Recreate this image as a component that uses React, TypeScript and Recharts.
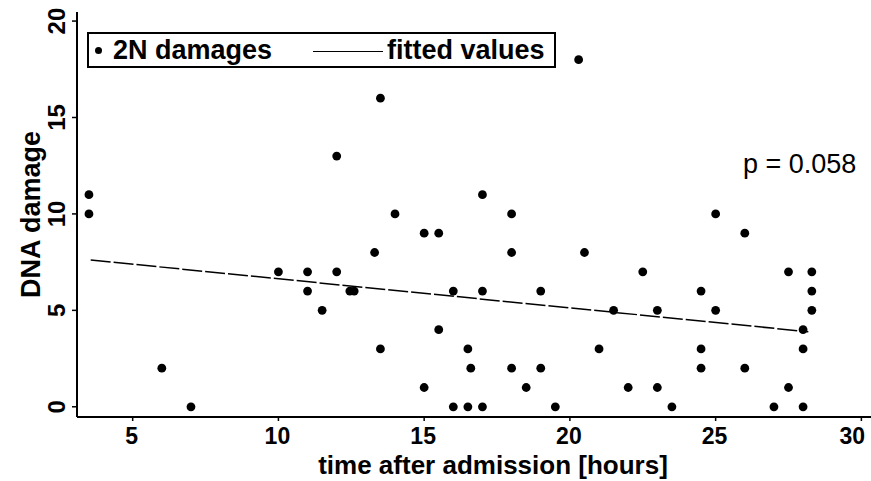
import React from 'react'
import {
  ScatterChart,
  Scatter,
  XAxis,
  YAxis,
  Legend,
  ReferenceDot,
} from 'recharts'

// hours after admission / DNA damage for each 2N observation
const hours = [
  3.5, 3.5, 6, 7, 10, 11, 11, 11.5, 12, 12, 12.45, 12.6, 13.3, 13.5, 13.5, 14,
  15, 15, 15.5, 15.5, 16, 16, 16.5, 16.5, 16.6, 17, 17, 17, 18, 18, 18, 18.5,
  19, 19, 19.5, 20.3, 20.5, 21, 21.5, 22, 22.5, 23, 23, 23.5, 24.5, 24.5, 24.5,
  25, 25, 26, 26, 27, 27.5, 27.5, 28, 28, 28, 28.3, 28.3, 28.3,
]
const damage = [
  11, 10, 2, 0, 7, 7, 6, 5, 13, 7, 6, 6, 8, 16, 3, 10,
  9, 1, 9, 4, 6, 0, 3, 0, 2, 11, 6, 0, 10, 8, 2, 1,
  6, 2, 0, 18, 8, 3, 5, 1, 7, 5, 1, 0, 6, 3, 2,
  10, 5, 9, 2, 0, 7, 1, 4, 3, 0, 7, 6, 5,
]

// fitted regression line, read at its two ends
const fitHours = [3.56, 28.18]
const fitValues = [7.61, 3.89]

const xTicks = [5, 10, 15, 20, 25, 30]
const yTicks = [0, 5, 10, 15, 20]

const pText = 'p = 0.058'
const pAt = { x: 25.94, y: 12.12 }

const points = hours.map((h, i) => ({ x: h, y: damage[i] }))
const fitted = fitHours.map((h, i) => ({ x: h, y: fitValues[i] }))

const FONT = '"Liberation Sans", Arial, sans-serif'
const xDomain = [3.09, 30.33]
const yDomain = [-0.53, 20.47]

const Dot = (props: any) => (
  <circle cx={props.cx} cy={props.cy} r={4.4} fill="#000" />
)

const YTick = ({ y, payload }: any) => (
  <text
    x={65}
    y={y}
    transform={`rotate(-90, 65, ${y})`}
    textAnchor="middle"
    fontFamily={FONT}
    fontWeight="bold"
    fontSize={24}
    fill="#000"
  >
    {payload.value}
  </text>
)

const XTick = ({ x, y, payload }: any) => (
  <text
    // last label is pulled inside the frame, as in the original
    x={payload.value === 30 ? x - 9 : x - 1}
    y={y + 21}
    textAnchor="middle"
    fontFamily={FONT}
    fontWeight="bold"
    fontSize={23}
    fill="#000"
  >
    {payload.value}
  </text>
)

const LegendBox = () => (
  <div
    style={{
      position: 'relative',
      width: 469,
      height: 36,
      boxSizing: 'border-box',
      border: '2px solid #000',
      background: '#fff',
      fontFamily: FONT,
      fontWeight: 'bold',
      fontSize: 27,
      lineHeight: '32px',
      whiteSpace: 'nowrap',
      color: '#000',
    }}
  >
    <span
      style={{
        position: 'absolute',
        left: 6,
        top: 13,
        width: 7,
        height: 7,
        borderRadius: '50%',
        background: '#000',
      }}
    />
    <span style={{ position: 'absolute', left: 24, top: 0 }}>2N damages</span>
    <span
      style={{
        position: 'absolute',
        left: 224,
        top: 17,
        width: 70,
        borderTop: '1.5px solid #000',
      }}
    />
    <span style={{ position: 'absolute', left: 298, top: 0 }}>fitted values</span>
  </div>
)

export default function App() {
  return (
    <div style={{ position: 'absolute', left: 0, top: 0, background: '#fff' }}>
      <ScatterChart
        width={871}
        height={481}
        margin={{ top: 12, right: 0, bottom: 0, left: 0 }}
      >
        <XAxis
          xAxisId="top"
          orientation="top"
          type="number"
          dataKey="x"
          domain={xDomain}
          allowDataOverflow
          height={0}
          tick={false}
          tickLine={false}
          axisLine={{ stroke: '#000', strokeWidth: 2 }}
        />
        <XAxis
          type="number"
          dataKey="x"
          domain={xDomain}
          allowDataOverflow
          ticks={xTicks}
          height={64}
          tick={<XTick />}
          tickSize={4}
          tickLine={{ stroke: '#000', strokeWidth: 1.5 }}
          axisLine={{ stroke: '#000', strokeWidth: 2 }}
          label={{
            content: ({ viewBox }: any) => (
              <text
                x={viewBox.x + viewBox.width / 2 + 19}
                y={474}
                textAnchor="middle"
                fontFamily={FONT}
                fontWeight="bold"
                fontSize={26}
                fill="#000"
              >
                time after admission [hours]
              </text>
            ),
          }}
        />
        <YAxis
          type="number"
          dataKey="y"
          domain={yDomain}
          allowDataOverflow
          ticks={yTicks}
          width={77}
          tick={<YTick />}
          tickSize={5}
          tickLine={{ stroke: '#000', strokeWidth: 1.5 }}
          axisLine={{ stroke: '#000', strokeWidth: 2 }}
          label={{
            content: ({ viewBox }: any) => {
              const cy = viewBox.y + viewBox.height / 2
              return (
                <text
                  x={40}
                  y={cy}
                  transform={`rotate(-90, 40, ${cy})`}
                  textAnchor="middle"
                  fontFamily={FONT}
                  fontWeight="bold"
                  fontSize={27}
                  fill="#000"
                >
                  DNA damage
                </text>
              )
            },
          }}
        />
        <Legend
          layout="horizontal"
          verticalAlign="middle"
          content={<LegendBox />}
          wrapperStyle={{ top: 32, left: 87, width: 469, height: 36 }}
        />
        <Scatter
          name="2N damages"
          data={points}
          shape={<Dot />}
          isAnimationActive={false}
        />
        <Scatter
          name="fitted values"
          data={fitted}
          line={{ stroke: '#000', strokeWidth: 1.5, strokeDasharray: '20 3' }}
          shape={() => <g />}
          isAnimationActive={false}
        />
        <ReferenceDot
          x={pAt.x}
          y={pAt.y}
          r={0}
          fill="none"
          stroke="none"
          label={{
            content: ({ viewBox }: any) => (
              <text
                x={viewBox.x}
                y={viewBox.y}
                fontFamily={FONT}
                fontSize={27}
                fill="#000"
              >
                {pText}
              </text>
            ),
          }}
        />
      </ScatterChart>
    </div>
  )
}
